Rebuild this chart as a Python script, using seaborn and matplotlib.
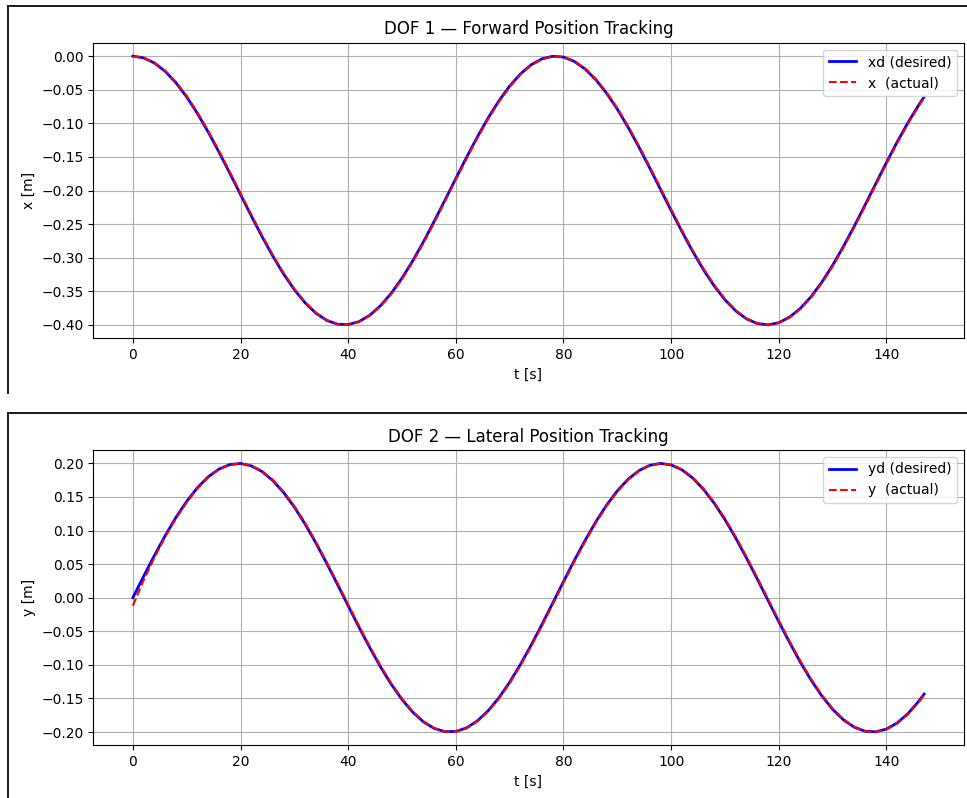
import matplotlib
matplotlib.use("Agg")
import matplotlib.pyplot as plt
from matplotlib.lines import Line2D
import seaborn as sns

# Sample times [s]
t = [0, 2, 4, 6, 8, 10, 12, 14, 16, 18, 20, 22, 24, 26, 28, 30, 32, 34, 36, 38,
     40, 42, 44, 46, 48, 50, 52, 54, 56, 58, 60, 62, 64, 66, 68, 70, 72, 74, 76, 78,
     80, 82, 84, 86, 88, 90, 92, 94, 96, 98, 100, 102, 104, 106, 108, 110, 112, 114,
     116, 118, 120, 122, 124, 126, 128, 130, 132, 134, 136, 138, 140, 142, 144, 146, 147]

# DOF 1: forward position, desired and measured [m]
x_desired = [0.0000, -0.0026, -0.0102, -0.0226, -0.0396, -0.0607, -0.0854, -0.1130,
             -0.1428, -0.1741, -0.2060, -0.2378, -0.2686, -0.2977, -0.3243, -0.3476,
             -0.3672, -0.3826, -0.3933, -0.3990, -0.3996, -0.3952, -0.3857, -0.3715,
             -0.3530, -0.3305, -0.3046, -0.2761, -0.2456, -0.2140, -0.1820, -0.1505,
             -0.1202, -0.0920, -0.0666, -0.0445, -0.0265, -0.0128, -0.0040, -0.0002,
             -0.0014, -0.0078, -0.0191, -0.0350, -0.0551, -0.0789, -0.1058, -0.1352,
             -0.1661, -0.1980, -0.2299, -0.2610, -0.2906, -0.3179, -0.3421, -0.3627,
             -0.3792, -0.3911, -0.3980, -0.4000, -0.3968, -0.3885, -0.3755, -0.3580,
             -0.3364, -0.3113, -0.2834, -0.2534, -0.2220, -0.1900, -0.1583, -0.1276,
             -0.0989, -0.0727, -0.0607]
x_actual = [-0.0005, -0.0023, -0.0096, -0.0217, -0.0384, -0.0593, -0.0838, -0.1112,
            -0.1409, -0.1721, -0.2040, -0.2358, -0.2667, -0.2960, -0.3227, -0.3463,
            -0.3661, -0.3818, -0.3928, -0.3988, -0.3997, -0.3956, -0.3864, -0.3725,
            -0.3543, -0.3320, -0.3063, -0.2779, -0.2475, -0.2160, -0.1840, -0.1524,
            -0.1220, -0.0937, -0.0681, -0.0458, -0.0275, -0.0135, -0.0044, -0.0003,
            -0.0012, -0.0072, -0.0182, -0.0339, -0.0537, -0.0773, -0.1040, -0.1333,
            -0.1641, -0.1960, -0.2279, -0.2591, -0.2888, -0.3163, -0.3407, -0.3615,
            -0.3783, -0.3905, -0.3977, -0.4000, -0.3972, -0.3892, -0.3765, -0.3592,
            -0.3379, -0.3130, -0.2852, -0.2553, -0.2240, -0.1920, -0.1603, -0.1295,
            -0.1006, -0.0742, -0.0621]

# DOF 2: lateral position, desired and measured [m]
y_desired = [0.0000, 0.0319, 0.0629, 0.0924, 0.1195, 0.1435, 0.1639, 0.1801,
             0.1916, 0.1983, 0.1999, 0.1964, 0.1879, 0.1745, 0.1567, 0.1350,
             0.1097, 0.0816, 0.0514, 0.0200, -0.0120, -0.0437, -0.0742, -0.1029,
             -0.1289, -0.1516, -0.1705, -0.1850, -0.1947, -0.1995, -0.1992, -0.1938,
             -0.1834, -0.1684, -0.1490, -0.1258, -0.0994, -0.0705, -0.0398, -0.0080,
             0.0240, 0.0553, 0.0852, 0.1130, 0.1378, 0.1592, 0.1765, 0.1892,
             0.1971, 0.2000, 0.1978, 0.1905, 0.1783, 0.1615, 0.1407, 0.1163,
             0.0888, 0.0591, 0.0279, -0.0040, -0.0358, -0.0667, -0.0959, -0.1227,
             -0.1463, -0.1662, -0.1818, -0.1927, -0.1988, -0.1997, -0.1956, -0.1865,
             -0.1725, -0.1542, -0.1435]
y_actual = [-0.0120, 0.0259, 0.0598, 0.0906, 0.1179, 0.1421, 0.1628, 0.1792,
            0.1910, 0.1980, 0.2000, 0.1968, 0.1886, 0.1755, 0.1579, 0.1365,
            0.1114, 0.0834, 0.0533, 0.0220, -0.0100, -0.0417, -0.0723, -0.1012,
            -0.1274, -0.1503, -0.1695, -0.1842, -0.1942, -0.1994, -0.1994, -0.1943,
            -0.1842, -0.1695, -0.1503, -0.1274, -0.1011, -0.0724, -0.0418, -0.0100,
            0.0220, 0.0534, 0.0834, 0.1113, 0.1364, 0.1580, 0.1756, 0.1886,
            0.1968, 0.2000, 0.1981, 0.1911, 0.1792, 0.1627, 0.1421, 0.1179,
            0.0906, 0.0610, 0.0299, -0.0020, -0.0338, -0.0648, -0.0941, -0.1211,
            -0.1449, -0.1651, -0.1810, -0.1922, -0.1986, -0.1998, -0.1960, -0.1872,
            -0.1735, -0.1555, -0.1449]

W, H = 967, 798
fig = plt.figure(figsize=(W / 100, H / 100), dpi=100)


def fx(px):
    return px / W


def fy(py):
    return 1 - py / H


panels = [
    dict(top=42.7, bottom=338.3, frame_top=5.5, frame_bottom=393.5,
         des=x_desired, act=x_actual, ylabel="x [m]",
         title="DOF 1 \u2014 Forward Position Tracking",
         labels=("xd (desired)", "x  (actual)")),
    dict(top=450.0, bottom=745.3, frame_top=412.7, frame_bottom=H + 5,
         des=y_desired, act=y_actual, ylabel="y [m]",
         title="DOF 2 \u2014 Lateral Position Tracking",
         labels=("yd (desired)", "y  (actual)")),
]

left_px, right_px = 93.3, 963.7
for p in panels:
    ax = fig.add_axes([fx(left_px), fy(p["bottom"]),
                       (right_px - left_px) / W, (p["bottom"] - p["top"]) / H])
    sns.lineplot(x=t, y=p["des"], ax=ax, color="blue", linewidth=2,
                 label=p["labels"][0], sort=False)
    sns.lineplot(x=t, y=p["act"], ax=ax, color="red", linewidth=1.5,
                 linestyle="--", label=p["labels"][1], sort=False)
    ax.set_xlabel("t [s]")
    ax.set_ylabel(p["ylabel"])
    ax.set_title(p["title"])
    ax.set_xticks([0, 20, 40, 60, 80, 100, 120, 140])
    ax.grid(True)
    ax.legend(loc="upper right")

    # panel frame (top and left edges)
    fig.add_artist(Line2D([fx(8.3), fx(W + 5)], [fy(p["frame_top"])] * 2,
                          color="#1a1a1a", linewidth=1.4))
    fig.add_artist(Line2D([fx(8.3)] * 2, [fy(p["frame_top"]), fy(p["frame_bottom"])],
                          color="#1a1a1a", linewidth=1.4))

fig.savefig("out.png", dpi=100)
